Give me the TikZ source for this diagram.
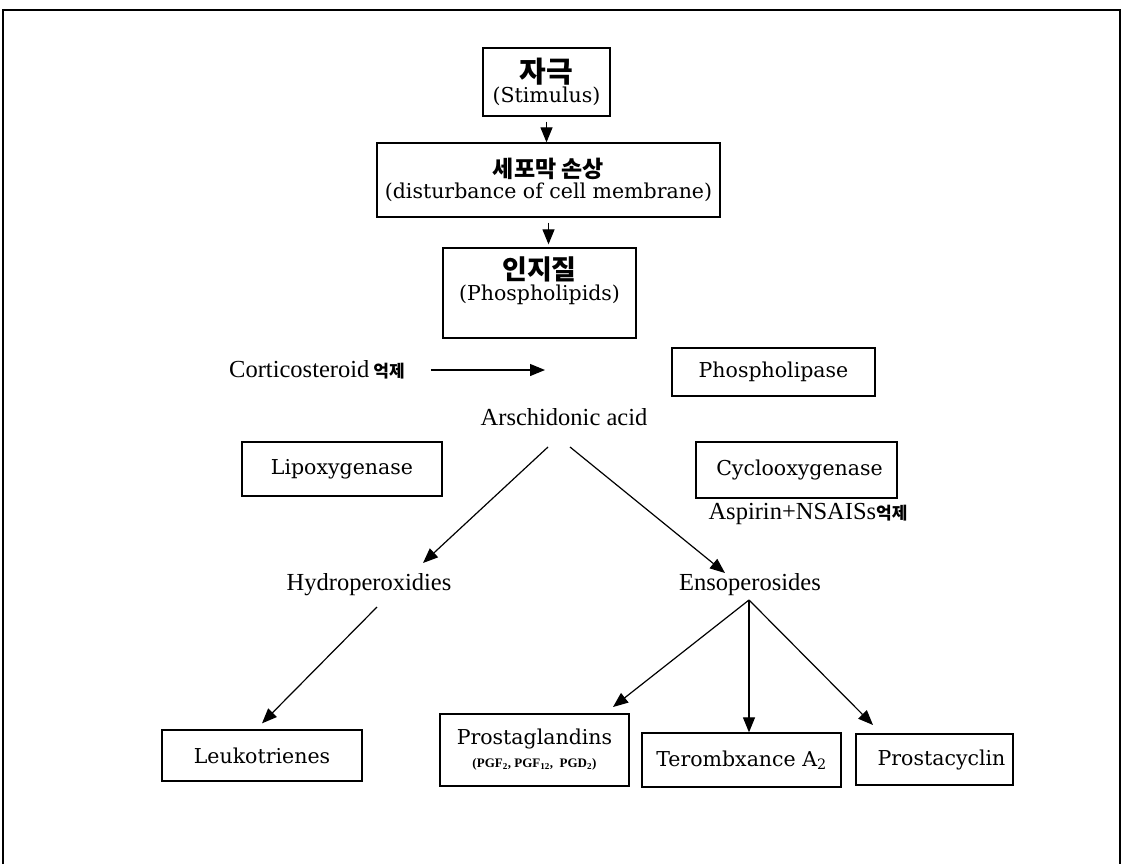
\documentclass[tikz,border=0pt]{standalone}
\usepackage{fontspec}
\setmainfont{DejaVu Serif}
\newfontfamily\tms{Liberation Serif}
\newfontfamily\kr{Noto Sans CJK KR}
\usetikzlibrary{arrows.meta}
\begin{document}
\begin{tikzpicture}[x=1pt,y=-1pt,
  box/.style={draw, line width=1.3pt, inner sep=0pt, align=center,
    font=\fontsize{20.5}{24}\selectfont},
  arr/.style={line width=1.2pt, -{Triangle[length=15pt,width=12pt]}},
  free/.style={inner sep=0pt, font=\tms\fontsize{24.5}{28}\selectfont}]
\useasboundingbox (0,0) rectangle (1123,864);
\draw[line width=2pt] (3,864) -- (3,10) -- (1120,10) -- (1120,864);

% top chain
\node[box, minimum width=127pt, minimum height=68pt] (stim) at (546.5,82)
  {{\kr\bfseries\fontsize{29}{30}\selectfont 자극}\\[-4pt](Stimulus)};
\node[box, minimum width=343pt, minimum height=74pt] (dist) at (548.5,180)
  {{\kr\bfseries\fontsize{23}{24}\selectfont 세포막 손상}\\[-3pt](disturbance of cell membrane)};
\node[box, minimum width=193pt, minimum height=90pt] (phos) at (539.5,293)
  {{\kr\bfseries\fontsize{27}{28}\selectfont 인지질}\\[-3pt](Phospholipids)\\[4pt]};

\draw[arr] ([yshift=-5pt]stim.south) -- (stim.south |- dist.north);
\draw[arr] ([yshift=-5pt]dist.south) -- ([yshift=3pt]dist.south |- phos.north);

% middle
\node[free] (cort) at (317,370) {Corticosteroid\,{\kr\bfseries\fontsize{17}{18}\selectfont 억제}};
\coordinate (cortend) at (545,370);
\draw[arr] ([xshift=26pt]cort.east) -- (cortend);

\node[box, minimum width=203pt, minimum height=48pt] (plase) at (773.5,372) {Phospholipase};
\node[free] (aa) at (564,417) {Arschidonic acid};
\node[box, minimum width=200pt, minimum height=54pt] (lipo) at (342,469) {Lipoxygenase};
\node[box, minimum width=201pt, minimum height=56pt] (cyclo) at (796.5,470) {\hspace{6pt}Cyclooxygenase};
\node[free] (asp) at (808,514) {Aspirin+NSAISs{\kr\bfseries\fontsize{17}{18}\selectfont 억제}};

\node[free] (hp) at (369,585) {Hydroperoxidies};
\node[free] (ep) at (750,585) {Ensoperosides};

\draw[arr] ([shift={(-16,30)}]aa.center) -- ([shift={(54,-22)}]hp.center);
\draw[arr] ([shift={(6,30)}]aa.center) -- ([shift={(-25,-12)}]ep.center);

% bottom
\node[box, minimum width=200pt, minimum height=51pt] (leuko) at (262,755.5) {Leukotrienes};
\node[box, minimum width=189pt, minimum height=72pt] (pgl) at (534.5,750)
  {Prostaglandins\\[-1pt]{\tms\bfseries\fontsize{13}{15}\selectfont (PGF\textsubscript{2}, PGF\textsubscript{12},\ \ PGD\textsubscript{2})}};
\node[box, minimum width=199pt, minimum height=54pt] (tx) at (741.5,760) {Terombxance A\textsubscript{2}};
\node[box, minimum width=157pt, minimum height=51pt] (pgi) at (934.5,759.5) {\hspace{14pt}Prostacyclin};

\draw[arr] ([shift={(8,22)}]hp.center) -- ([yshift=6pt]leuko.north);
\draw[arr] ([shift={(-1,15)}]ep.center) -- ([shift={(78.5,-43)}]pgl.center);
\draw[arr] ([shift={(-1,15)}]ep.center) -- ([xshift=7.5pt]tx.north);
\draw[arr] ([shift={(-1,15)}]ep.center) -- ([shift={(-61.5,-34.5)}]pgi.center);
\end{tikzpicture}
\end{document}
